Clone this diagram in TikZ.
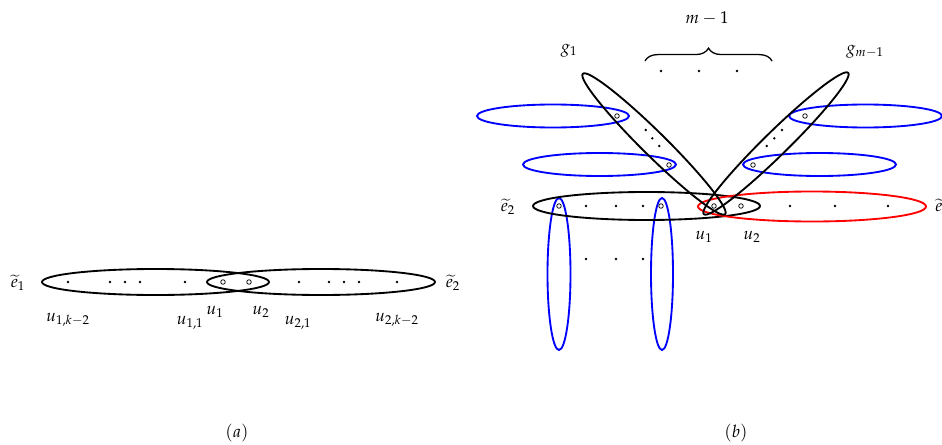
\documentclass[tikz,border=0pt]{standalone}
\usepackage{mathpazo}
\usetikzlibrary{decorations.pathreplacing}
\begin{document}
\begin{tikzpicture}[x=0.7pt,y=0.7pt,
  edge/.style={line width=1.3pt},
  bedge/.style={line width=1.3pt,blue},
  redge/.style={line width=1.3pt,red},
  dotv/.style={circle,fill=black,inner sep=0pt,minimum size=1.9pt},
  ovtx/.style={circle,draw=black,line width=0.5pt,fill=white,inner sep=0pt,minimum size=3.2pt},
  lab/.style={inner sep=0pt,font=\fontsize{12}{14}\selectfont}]
\useasboundingbox (0,0) rectangle (942,444);
% ---------- (a) ----------
\draw[edge] (155.5,162) ellipse [x radius=113.5, y radius=13];
\draw[edge] (321,162) ellipse [x radius=114, y radius=13];
\foreach \x/\n in {68/a1,110/a2,125/a3,140/a4,185/a5,299/a6,329/a7,344/a8,359/a9,397/a10}
  \node[dotv] (\n) at (\x,162) {};
\node[ovtx] (au1) at (223,162) {};
\node[ovtx] (au2) at (249,162) {};
\node[lab] (ae1) at (18,161) {$\widetilde{e}_1$};
\node[lab] (ae2) at (453,161) {$\widetilde{e}_2$};
\node[lab] (l1) at (68,124) {$u_{1,k-2}$};
\node[lab] (l2) at (190,121) {$u_{1,1}$};
\node[lab] (l3) at (215,132) {$u_1$};
\node[lab] (l4) at (261,132) {$u_2$};
\node[lab] (l5) at (298,121) {$u_{2,1}$};
\node[lab] (l6) at (397,124) {$u_{2,k-2}$};
\node[lab] (capa) at (237,11) {$(a)$};
% ---------- (b) ----------
\draw[bedge] (553,328) ellipse [x radius=76, y radius=11.5];
\draw[bedge] (599.5,279.5) ellipse [x radius=76.5, y radius=11.5];
\draw[bedge] (865.5,328) ellipse [x radius=76.5, y radius=11.5];
\draw[bedge] (819.5,279.5) ellipse [x radius=76.5, y radius=11.5];
\draw[bedge] (559,170) ellipse [x radius=11.5, y radius=76];
\draw[bedge] (662,170) ellipse [x radius=11, y radius=76];
\draw[edge] (646.5,238) ellipse [x radius=113.5, y radius=14];
\draw[redge] (812,237.5) ellipse [x radius=114, y radius=15];
\draw[edge,rotate around={-44.6:(654,300)}] (654,300) ellipse [x radius=100, y radius=12];
\draw[edge,rotate around={44.4:(776,300.5)}] (776,300.5) ellipse [x radius=101, y radius=12];
% vertices
\node[ovtx] (b1) at (559,238) {};
\node[ovtx] (b2) at (661,238) {};
\node[ovtx] (bu1) at (714,238) {};
\node[ovtx] (bu2) at (741,238) {};
\foreach \x/\n in {586/r1,616/r2,643/r3,790/r4,835/r5,888/r6}
  \node[dotv] (\n) at (\x,238) {};
\foreach \x/\n in {586/s1,616/s2,643/s3}
  \node[dotv] (\n) at (\x,185) {};
\node[ovtx] (gl1) at (617,328) {};
\node[ovtx] (gl2) at (669,279) {};
\node[ovtx] (gr1) at (805,328) {};
\node[ovtx] (gr2) at (753,279) {};
\node[dotv] (dl1) at (645.7,314) {};
\node[dotv] (dl2) at (652.3,305.7) {};
\node[dotv] (dl3) at (659.3,298) {};
\node[dotv] (dr1) at (782,314) {};
\node[dotv] (dr2) at (774.3,305.7) {};
\node[dotv] (dr3) at (766.7,298) {};
\foreach \x/\n in {661/t1,699/t2,737/t3}
  \node[dotv] (\n) at (\x,373) {};
\coordinate (brl) at (645,383);
\coordinate (brr) at (772,383);
\draw[line width=0.9pt,decorate,decoration={brace,amplitude=9}] (brl) -- (brr);
\node[lab] (m1) at (707,426) {$m-1$};
\node[lab] (g1) at (569,393) {$g_1$};
\node[lab] (gm) at (865,392) {$g_{m-1}$};
\node[lab] (be2) at (508,237) {$\widetilde{e}_2$};
\node[lab,anchor=west] (be1) at (935,237) {$\widetilde{e}_1$};
\node[lab] (bl1) at (704,207) {$u_1$};
\node[lab] (bl2) at (752,207) {$u_2$};
\node[lab] (capb) at (736,11) {$(b)$};
\end{tikzpicture}
\end{document}
